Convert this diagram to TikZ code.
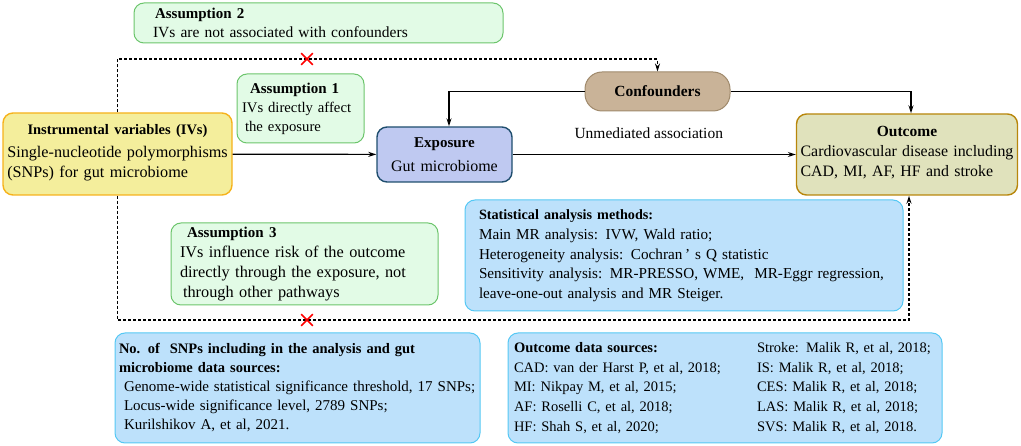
\documentclass[tikz,border=0pt]{standalone}
\usepackage{fontspec}
\setmainfont{Liberation Serif}
\usetikzlibrary{arrows.meta,shapes.misc}

\definecolor{asfill}{HTML}{E2FBE6}
\definecolor{asline}{HTML}{6CC56C}
\definecolor{ivfill}{HTML}{F4EE9C}
\definecolor{ivline}{HTML}{F6B21B}
\definecolor{exfill}{HTML}{BFC9F1}
\definecolor{exline}{HTML}{1F4E6E}
\definecolor{cffill}{HTML}{C9B398}
\definecolor{cfline}{HTML}{A08A6C}
\definecolor{ocfill}{HTML}{E0E2BC}
\definecolor{ocline}{HTML}{B8860B}
\definecolor{infill}{HTML}{BDE1FB}
\definecolor{inline}{HTML}{55C8F4}

\newcommand{\boxhead}[2]{{\fontsize{#1}{#1}\selectfont\bfseries #2}}

\tikzset{
  box/.style={draw, rounded corners=10pt, line width=1pt, align=left, inner ysep=0pt},
  assume/.style={box, fill=asfill, draw=asline},
  infobox/.style={box, fill=infill, draw=inline},
  link/.style={line width=1.2pt, -{Stealth[length=8pt,width=5pt]}},
  dashlink/.style={line width=1.6pt, dash pattern=on 3pt off 2pt, -{Stealth[length=8pt,width=5pt]}},
  nocross/.style={cross out, draw=red, line width=1.6pt, minimum size=10pt, inner sep=0pt}
}

\begin{document}
\begin{tikzpicture}[x=1pt,y=-1pt]
        \useasboundingbox (0,0) rectangle (1021,446);

        % assumptions
        \node[assume, text width=331pt, inner xsep=19pt, minimum height=40pt,
              font=\fontsize{15.5}{19}\selectfont] (a2) at (318.5,23)
              {\boxhead{15}{\hspace{2pt}Assumption 2}\\IVs are not associated with confounders};
        \node[assume, text width=117pt, inner xsep=5pt, minimum height=69pt,
              font=\fontsize{14.7}{19}\selectfont] (a1) at (300.5,108.5)
              {\boxhead{15}{\hspace{8pt}Assumption 1}\\IVs directly affect\\\hspace{3pt}the exposure};
        \node[assume, text width=249pt, inner xsep=9pt, minimum height=82pt,
              font=\fontsize{16.3}{20}\selectfont] (a3) at (304.5,264)
              {\boxhead{15}{\hspace{7pt}Assumption 3}\\IVs influence risk of the outcome\\directly through the exposure, not\\\hspace{3pt}through other pathways};

        % main chain
        \node[box, fill=ivfill, draw=ivline, line width=1.4pt, text width=221pt, inner xsep=4pt, minimum height=82pt,
              align=center, font=\fontsize{16.2}{20}\selectfont] (iv) at (117.5,154)
              {\boxhead{14.5}{Instrumental variables (IVs)}\\[5pt]
               \begin{tabular}{@{}l@{}}Single-nucleotide polymorphisms\\(SNPs) for gut microbiome\end{tabular}};
        \node[box, fill=exfill, draw=exline, line width=1.4pt, text width=127pt, inner xsep=4pt, minimum height=55pt,
              align=center, font=\fontsize{16}{24}\selectfont] (ex) at (444.5,154.5)
              {\boxhead{15}{Exposure}\\Gut microbiome};
        \node[box, fill=cffill, draw=cfline, rounded corners=17pt, minimum width=145pt, minimum height=39pt,
              align=center, font=\fontsize{15.5}{17}\selectfont] (cf) at (657.5,91.5)
              {\textbf{Confounders}};
        \node[box, fill=ocfill, draw=ocline, line width=1.4pt, text width=213pt, inner xsep=4pt, minimum height=81pt,
              align=center, font=\fontsize{15.9}{20}\selectfont] (oc) at (907,154.5)
              {\boxhead{15.5}{Outcome}\\[5pt]
               \begin{tabular}{@{}l@{}}Cardiovascular disease including\\CAD, MI, AF, HF and stroke\end{tabular}};
        \node[anchor=west, font=\fontsize{15.5}{18}\selectfont] (ua) at (571,133) {Unmediated association};

        % information boxes
        \node[infobox, text width=420pt, inner xsep=9pt, minimum height=111pt,
              font=\fontsize{15.2}{19.5}\selectfont] (st) at (684,255.5)
              {\hspace{5pt}\boxhead{14.2}{Statistical analysis methods:}\\[1pt]
               \hspace{5pt}Main MR analysis: IVW, Wald ratio;\\
               \hspace{5pt}Heterogeneity analysis: Cochran\,’\ s Q statistic\\
               \hspace{5pt}Sensitivity analysis: MR-PRESSO, WME,\ \ MR-Eggr regression,\\
               \hspace{5pt}leave-one-out analysis and MR Steiger.};
        \node[infobox, text width=357pt, inner xsep=4pt, minimum height=110pt,
              font=\fontsize{15}{19}\selectfont] (snp) at (297.5,388)
              {\boxhead{14.5}{No. of\ \ SNPs including in the analysis and gut}\\
               \boxhead{14.5}{microbiome data sources:}\\
               \ Genome-wide statistical significance threshold, 17 SNPs;\\
               \ Locus-wide significance level, 2789 SNPs;\\
               \ Kurilshikov A, et al, 2021.};
        \node[infobox, text width=422pt, inner xsep=6pt, minimum height=110pt,
              font=\fontsize{14.5}{19.8}\selectfont] (od) at (725,388)
              {\begin{tabular}{@{}p{243pt}@{}l@{}}
               \boxhead{14.5}{Outcome data sources:} & Stroke: Malik R, et al, 2018;\\
               CAD: van der Harst P, et al, 2018; & IS: Malik R, et al, 2018;\\
               MI: Nikpay M, et al, 2015; & CES: Malik R, et al, 2018;\\
               AF: Roselli C, et al, 2018; & LAS: Malik R, et al, 2018;\\
               HF: Shah S, et al, 2020; & SVS: Malik R, et al, 2018.
               \end{tabular}};

        % connectors
        \coordinate (topbend) at (657.5,59);
        \coordinate (lowbend) at (909,320);

        \draw[link] (iv) -- (ex);
        \draw[link] (ex) -- (oc);
        \draw[link] (cf.west) -| ([xshift=4.5pt]ex.north);
        \draw[link] (cf.east) -| ([xshift=4pt]oc.north);
        \draw[dashlink] (iv.north) |- (topbend) -- (cf.north);
        \draw[dashlink] (iv.south) |- (lowbend) -- ([xshift=2pt]oc.south);

        \node[nocross] (xtop) at (307,59) {};
        \node[nocross] (xlow) at (307,320) {};

\end{tikzpicture}
\end{document}
